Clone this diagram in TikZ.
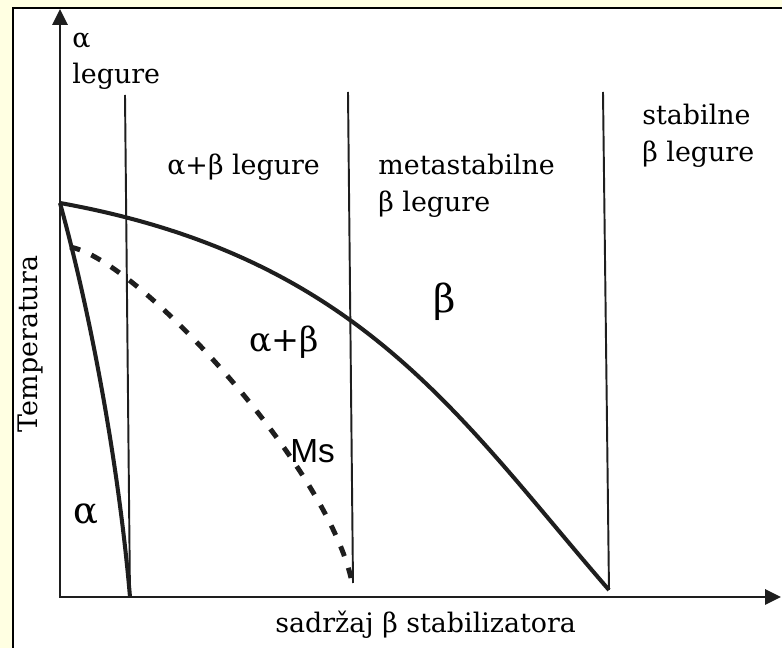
\documentclass[tikz,border=0pt]{standalone}
\usepackage{fontspec}
\setmainfont{DejaVu Serif}
\newfontfamily\msfont{Liberation Sans}
\usetikzlibrary{arrows.meta}
\definecolor{fondjaune}{RGB}{255,255,226}
\definecolor{trait}{RGB}{30,30,30}
\tikzset{
  axe/.style={trait, line width=1.7pt, line join=miter, {Triangle[width=8.5pt,length=9pt]}-{Triangle[width=8.5pt,length=9pt]}},
  limite/.style={trait, line width=2.3pt},
  separ/.style={trait, line width=1.1pt},
  etiq/.style={font=\fontsize{15.3}{18}\selectfont, inner sep=0pt},
  phase/.style={font=\fontsize{19}{23}\selectfont, inner sep=0pt}
}

\begin{document}
\begin{tikzpicture}[x=0.02cm,y=-0.02cm]
    % Cadre : 782 x 648 (une unite = un pixel)
    \useasboundingbox (0,0) rectangle (782,648);
    \fill[fondjaune] (0,0) rectangle (782,648);
    \draw[fill=white, line width=0.9pt] (13,8) rectangle (800,670);

    % Axes
    \coordinate (Ty) at (60,9);
    \coordinate (O) at (60,597);
    \coordinate (Tx) at (781,597);
    \draw[axe] (Ty) -- (O) -- (Tx);

    % Lignes de separation des domaines
    \draw[separ] (125,95) -- (130,597);
    \draw[separ] (348,92) -- (353,583);
    \draw[separ] (603,92) -- (609,590);

    % Courbes
    \coordinate (A) at (60,203);
    \coordinate (B) at (609,590);
    \coordinate (C) at (130,597);
    \draw[limite] (A) .. controls (360,257) and (459,417) .. (B);
    \draw[limite] (A) .. controls (95,330) and (120,480) .. (C);
    % Ms en pointille
    \coordinate (D) at (70,247);
    \coordinate (E) at (353,588);
    \draw[limite, line width=2.8pt, dash pattern=on 6pt off 7pt] (D) .. controls (140,260) and (335,475) .. (E);

    % Etiquettes
    \node[etiq, anchor=base west] (alphaleg) at (72,48) {α};
    \node[etiq, anchor=base west] (leg) at (72,84) {legure};
    \node[etiq, anchor=base west] (ableg) at (167,175) {α+β legure};
    \node[etiq, anchor=base west] (meta) at (378,175) {metastabilne};
    \node[etiq, anchor=base west] (metaleg) at (378,212) {β legure};
    \node[etiq, anchor=base west] (stab) at (642,125) {stabilne};
    \node[etiq, anchor=base west] (stableg) at (642,162) {β legure};

    \node[font=\fontsize{22}{26}\selectfont, inner sep=0pt] (beta) at (445,302) {β};
    \node[phase] (ab) at (284,342) {α+β};
    \node[font=\fontsize{21}{25}\selectfont, inner sep=0pt] (alpha) at (86,514) {α};
    \node[font=\msfont\fontsize{19}{22}\selectfont, anchor=base west, inner sep=0pt] (ms) at (290,463) {Ms};

    \node[etiq, rotate=90, anchor=base] (temp) at (37,344) {Temperatura};
    \node[etiq, anchor=base west] (sadr) at (275,633) {sadržaj β stabilizatora};
\end{tikzpicture}
\end{document}
